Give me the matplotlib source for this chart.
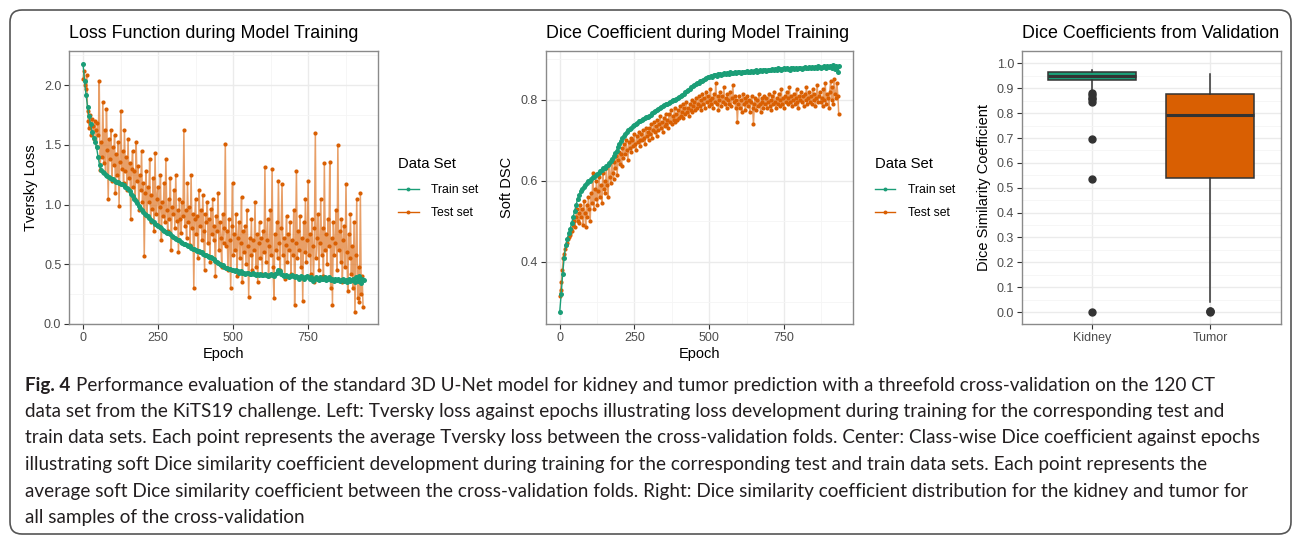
import matplotlib.pyplot as plt
from matplotlib.lines import Line2D
from matplotlib.patches import FancyBboxPatch
import numpy as np

plt.rcParams['font.family'] = 'Liberation Sans'

W, H = 1293, 536

GREEN = '#1B9E77'
ORANGE = '#D95F02'

# train curves read every 5th epoch, test curves every 3rd epoch
train_epochs = np.arange(0, 936, 5)
test_epochs = np.arange(0, 934, 3)

train_loss = [
    2.18, 2.03, 1.92, 1.82, 1.74, 1.67, 1.61, 1.56, 1.52, 1.48,
    1.40, 1.33, 1.29, 1.27, 1.26, 1.25, 1.24, 1.23, 1.22, 1.21,
    1.21, 1.20, 1.19, 1.19, 1.18, 1.17, 1.17, 1.16, 1.15, 1.14,
    1.13, 1.11, 1.09, 1.07, 1.05, 1.03, 1.01, 0.99, 0.97, 0.95,
    0.94, 0.92, 0.91, 0.90, 0.89, 0.87, 0.86, 0.85, 0.84, 0.83,
    0.82, 0.81, 0.80, 0.79, 0.78, 0.77, 0.76, 0.76, 0.75, 0.74,
    0.73, 0.72, 0.71, 0.70, 0.70, 0.69, 0.68, 0.67, 0.67, 0.66,
    0.65, 0.65, 0.64, 0.63, 0.63, 0.62, 0.61, 0.61, 0.60, 0.60,
    0.59, 0.58, 0.58, 0.57, 0.56, 0.56, 0.55, 0.54, 0.53, 0.52,
    0.51, 0.50, 0.49, 0.49, 0.48, 0.47, 0.47, 0.46, 0.46, 0.45,
    0.45, 0.44, 0.45, 0.44, 0.43, 0.44, 0.43, 0.43, 0.42, 0.43,
    0.43, 0.42, 0.42, 0.43, 0.42, 0.41, 0.42, 0.41, 0.42, 0.41,
    0.41, 0.42, 0.41, 0.40, 0.41, 0.42, 0.41, 0.40, 0.42, 0.43,
    0.45, 0.44, 0.42, 0.41, 0.40, 0.41, 0.40, 0.39, 0.40, 0.41,
    0.40, 0.39, 0.40, 0.39, 0.38, 0.40, 0.39, 0.38, 0.39, 0.40,
    0.39, 0.38, 0.39, 0.36, 0.38, 0.39, 0.38, 0.37, 0.39, 0.38,
    0.38, 0.39, 0.37, 0.38, 0.39, 0.37, 0.38, 0.36, 0.38, 0.37,
    0.38, 0.36, 0.37, 0.38, 0.36, 0.37, 0.35, 0.38, 0.36, 0.37,
    0.38, 0.35, 0.39, 0.36, 0.40, 0.34, 0.38, 0.37,
]

test_loss = [
    2.05, 2.12, 2.00, 1.97, 2.08, 1.78, 1.70, 1.64, 1.75, 1.58,
    1.72, 1.66, 1.55, 1.70, 1.62, 1.48, 1.68, 1.58, 2.03, 1.29,
    1.52, 1.40, 1.86, 1.35, 1.62, 1.25, 1.80, 1.46, 1.05, 1.55,
    1.38, 1.62, 1.20, 1.48, 1.33, 1.58, 1.10, 1.42, 1.25, 1.52,
    0.99, 1.36, 1.78, 1.30, 1.45, 1.18, 1.62, 1.28, 1.40, 1.12,
    1.55, 1.22, 1.35, 0.88, 1.30, 1.45, 1.15, 1.28, 1.05, 1.52,
    1.20, 1.32, 0.95, 1.25, 1.12, 1.45, 1.02, 1.18, 0.57, 1.10,
    1.28, 0.90, 1.15, 1.02, 1.38, 0.85, 1.08, 0.96, 1.22, 0.78,
    1.43, 0.92, 1.05, 1.15, 0.82, 0.98, 1.25, 0.70, 1.02, 0.90,
    1.18, 0.85, 1.38, 0.95, 0.78, 1.05, 0.88, 1.22, 0.62, 0.98,
    0.92, 1.12, 0.80, 1.25, 0.86, 0.95, 0.60, 1.05, 0.88, 0.76,
    1.02, 0.90, 1.62, 0.82, 0.95, 0.72, 1.18, 0.85, 0.98, 0.66,
    1.25, 0.80, 0.92, 0.30, 0.88, 1.05, 0.75, 0.90, 0.55, 1.12,
    0.82, 0.95, 0.70, 1.08, 0.78, 0.45, 0.92, 0.85, 1.02, 0.68,
    0.88, 0.52, 0.96, 0.75, 1.05, 0.70, 0.82, 0.40, 0.90, 0.78,
    1.10, 0.62, 0.85, 0.72, 0.48, 0.92, 0.68, 0.80, 1.51, 0.65,
    0.78, 0.45, 0.88, 0.70, 0.30, 0.82, 1.18, 0.58, 0.75, 0.62,
    0.92, 0.40, 0.72, 0.85, 0.55, 0.68, 1.06, 0.35, 0.78, 0.60,
    0.82, 0.50, 0.95, 0.65, 0.23, 0.72, 0.58, 0.88, 0.45, 0.70,
    0.62, 1.02, 0.48, 0.75, 0.35, 0.68, 0.85, 0.55, 0.72, 0.42,
    0.78, 0.60, 1.31, 0.52, 0.70, 0.88, 0.40, 0.65, 0.95, 0.58,
    1.30, 0.48, 0.22, 0.75, 0.62, 0.85, 0.55, 1.20, 0.68, 0.45,
    0.80, 1.17, 0.58, 0.72, 0.38, 0.66, 0.90, 0.52, 0.75, 0.62,
    0.85, 0.42, 0.70, 0.58, 0.95, 0.16, 0.68, 1.28, 0.55, 0.78,
    0.62, 0.90, 0.48, 0.72, 0.19, 0.85, 0.60, 1.05, 0.52, 0.70,
    1.20, 0.58, 0.75, 0.42, 0.88, 0.65, 0.35, 0.80, 1.60, 0.55,
    0.72, 0.92, 0.45, 0.68, 1.05, 0.58, 0.80, 0.40, 1.35, 0.62,
    0.75, 0.50, 0.88, 0.65, 1.36, 0.30, 0.72, 0.16, 0.85, 0.58,
    0.68, 0.95, 0.45, 1.50, 0.62, 0.78, 0.52, 0.88, 0.35, 0.70,
    0.82, 0.48, 1.17, 0.60, 0.28, 0.75, 0.55, 0.92, 0.42, 0.65,
    0.30, 0.85, 0.10, 0.58, 1.05, 0.22, 0.48, 0.18, 1.10, 0.25,
    0.40, 0.14,
]

train_dice = [
    0.275, 0.320, 0.370, 0.410, 0.440, 0.455, 0.470, 0.480, 0.495, 0.510,
    0.525, 0.540, 0.555, 0.565, 0.575, 0.580, 0.585, 0.590, 0.595, 0.598,
    0.600, 0.605, 0.608, 0.610, 0.613, 0.617, 0.620, 0.623, 0.627, 0.630,
    0.632, 0.635, 0.638, 0.643, 0.648, 0.654, 0.660, 0.667, 0.674, 0.682,
    0.690, 0.698, 0.705, 0.711, 0.716, 0.720, 0.724, 0.728, 0.731, 0.734,
    0.737, 0.740, 0.743, 0.746, 0.748, 0.750, 0.752, 0.754, 0.756, 0.758,
    0.760, 0.763, 0.766, 0.769, 0.772, 0.774, 0.777, 0.780, 0.782, 0.784,
    0.786, 0.788, 0.790, 0.792, 0.794, 0.796, 0.798, 0.800, 0.802, 0.804,
    0.806, 0.809, 0.812, 0.815, 0.818, 0.821, 0.824, 0.827, 0.830, 0.833,
    0.836, 0.838, 0.840, 0.842, 0.845, 0.847, 0.849, 0.851, 0.853, 0.855,
    0.856, 0.858, 0.857, 0.860, 0.861, 0.859, 0.862, 0.863, 0.861, 0.864,
    0.865, 0.863, 0.866, 0.864, 0.867, 0.865, 0.866, 0.868, 0.865, 0.867,
    0.868, 0.866, 0.869, 0.867, 0.868, 0.870, 0.867, 0.869, 0.871, 0.868,
    0.870, 0.872, 0.869, 0.871, 0.873, 0.870, 0.872, 0.874, 0.871, 0.873,
    0.874, 0.872, 0.875, 0.873, 0.876, 0.874, 0.877, 0.875, 0.873, 0.876,
    0.877, 0.875, 0.878, 0.876, 0.874, 0.877, 0.879, 0.876, 0.878, 0.875,
    0.877, 0.879, 0.876, 0.878, 0.880, 0.877, 0.879, 0.881, 0.878, 0.880,
    0.879, 0.881, 0.878, 0.882, 0.880, 0.877, 0.881, 0.883, 0.879, 0.882,
    0.880, 0.884, 0.878, 0.886, 0.875, 0.884, 0.868, 0.882,
]

test_dice = [
    0.315, 0.330, 0.350, 0.380, 0.410, 0.420, 0.430, 0.440, 0.445, 0.455,
    0.460, 0.470, 0.465, 0.480, 0.475, 0.490, 0.500, 0.485, 0.510, 0.530,
    0.500, 0.520, 0.495, 0.540, 0.510, 0.530, 0.490, 0.550, 0.520, 0.485,
    0.540, 0.510, 0.560, 0.530, 0.500, 0.570, 0.545, 0.620, 0.530, 0.580,
    0.555, 0.600, 0.540, 0.575, 0.610, 0.560, 0.590, 0.545, 0.620, 0.580,
    0.600, 0.570, 0.630, 0.590, 0.560, 0.640, 0.610, 0.595, 0.650, 0.620,
    0.605, 0.645, 0.630, 0.660, 0.615, 0.650, 0.670, 0.640, 0.665, 0.635,
    0.680, 0.655, 0.690, 0.665, 0.700, 0.675, 0.650, 0.695, 0.680, 0.705,
    0.670, 0.700, 0.685, 0.715, 0.690, 0.675, 0.710, 0.695, 0.720, 0.700,
    0.685, 0.715, 0.700, 0.725, 0.705, 0.690, 0.730, 0.710, 0.720, 0.700,
    0.730, 0.715, 0.740, 0.705, 0.725, 0.745, 0.720, 0.735, 0.710, 0.750,
    0.725, 0.740, 0.760, 0.730, 0.745, 0.720, 0.755, 0.735, 0.765, 0.740,
    0.750, 0.730, 0.765, 0.745, 0.775, 0.740, 0.760, 0.750, 0.780, 0.745,
    0.765, 0.750, 0.775, 0.755, 0.785, 0.760, 0.770, 0.790, 0.755, 0.780,
    0.765, 0.795, 0.770, 0.780, 0.760, 0.790, 0.775, 0.800, 0.770, 0.785,
    0.795, 0.775, 0.805, 0.780, 0.790, 0.810, 0.785, 0.800, 0.775, 0.815,
    0.790, 0.805, 0.780, 0.820, 0.795, 0.810, 0.785, 0.800, 0.825, 0.790,
    0.805, 0.780, 0.815, 0.795, 0.840, 0.790, 0.810, 0.775, 0.800, 0.820,
    0.785, 0.810, 0.795, 0.830, 0.790, 0.805, 0.780, 0.815, 0.800, 0.790,
    0.820, 0.785, 0.805, 0.835, 0.795, 0.810, 0.780, 0.800, 0.745, 0.790,
    0.810, 0.780, 0.800, 0.770, 0.815, 0.790, 0.805, 0.775, 0.795, 0.810,
    0.785, 0.800, 0.770, 0.795, 0.810, 0.780, 0.740, 0.790, 0.805, 0.775,
    0.800, 0.785, 0.815, 0.790, 0.770, 0.805, 0.795, 0.780, 0.810, 0.790,
    0.805, 0.780, 0.795, 0.815, 0.785, 0.800, 0.775, 0.810, 0.790, 0.820,
    0.795, 0.780, 0.805, 0.790, 0.815, 0.785, 0.800, 0.825, 0.790, 0.805,
    0.780, 0.810, 0.795, 0.820, 0.790, 0.805, 0.830, 0.795, 0.810, 0.785,
    0.800, 0.815, 0.790, 0.805, 0.825, 0.795, 0.780, 0.810, 0.800, 0.820,
    0.795, 0.810, 0.785, 0.815, 0.800, 0.830, 0.790, 0.805, 0.820, 0.795,
    0.810, 0.790, 0.825, 0.800, 0.815, 0.785, 0.805, 0.835, 0.795, 0.810,
    0.820, 0.795, 0.805, 0.785, 0.825, 0.800, 0.840, 0.790, 0.815, 0.805,
    0.780, 0.820, 0.845, 0.800, 0.830, 0.790, 0.850, 0.815, 0.805, 0.840,
    0.810, 0.765,
]

# validation box plot summaries
categories = ['Kidney', 'Tumor']
box_q1 = [0.933, 0.538]
box_median = [0.949, 0.791]
box_q3 = [0.966, 0.879]
whisker_low = [0.885, 0.040]
whisker_high = [0.975, 0.957]
outliers = [
    [0.880, 0.872, 0.862, 0.855, 0.846, 0.698, 0.536, 0.0],
    [0.006, 0.003, 0.0],
]

caption_lines = [
    'Performance evaluation of the standard 3D U-Net model for kidney and tumor prediction with a threefold cross-validation on the 120 CT',
    'data set from the KiTS19 challenge. Left: Tversky loss against epochs illustrating loss development during training for the corresponding test and',
    'train data sets. Each point represents the average Tversky loss between the cross-validation folds. Center: Class-wise Dice coefficient against epochs',
    'illustrating soft Dice similarity coefficient development during training for the corresponding test and train data sets. Each point represents the',
    'average soft Dice similarity coefficient between the cross-validation folds. Right: Dice similarity coefficient distribution for the kidney and tumor for',
    'all samples of the cross-validation',
]


def fx(x):
    return x / W


def fy(y):
    return 1 - y / H


def add_panel(left, top, right, bottom):
    return fig.add_axes([fx(left), fy(bottom), (right - left) / W, (bottom - top) / H])


def style_axes(ax):
    for s in ax.spines.values():
        s.set_color('#8a8a8a')
        s.set_linewidth(1.0)
    ax.grid(which='major', color='#EBEBEB', lw=1.0)
    ax.grid(which='minor', color='#F5F5F5', lw=0.6)
    ax.set_axisbelow(True)
    ax.tick_params(which='major', length=3.5, width=0.8, color='#333333',
                   labelcolor='#4D4D4D', labelsize=9, pad=2)
    ax.tick_params(which='minor', length=0)


def draw_training(ax, train, test):
    ax.plot(test_epochs, test, color=ORANGE, lw=1.1, alpha=0.6, zorder=2)
    ax.plot(test_epochs, test, ls='none', marker='o', ms=3.0, mfc=ORANGE, mec='none', zorder=3)
    ax.plot(train_epochs, train, color=GREEN, lw=1.0, zorder=4,
            marker='o', ms=3.6, mfc=GREEN, mec='none')
    ax.set_xlim(-46.75, 981.75)
    ax.set_xticks([0, 250, 500, 750])
    ax.set_xticks([125, 375, 625, 875], minor=True)
    style_axes(ax)


def add_legend(x, y):
    handles = [Line2D([], [], color=GREEN, lw=1.0, marker='o', ms=2.8, mec='none'),
               Line2D([], [], color=ORANGE, lw=1.0, marker='o', ms=2.8, mec='none')]
    leg = fig.legend(handles, ['Train set', 'Test set'], title='Data Set',
                     loc='upper left', bbox_to_anchor=(fx(x), fy(y)),
                     frameon=False, alignment='left', fontsize=8.8,
                     title_fontsize=10.7, handlelength=1.7, handletextpad=1.0,
                     labelspacing=0.85, borderpad=0, borderaxespad=0)
    leg._legend_box.sep = 10


fig = plt.figure(figsize=(W / 100, H / 100), dpi=100)

# left: loss
ax1 = add_panel(69, 51, 377.7, 324)
draw_training(ax1, train_loss, test_loss)
ax1.set_ylim(0, 2.285)
ax1.set_yticks([0.0, 0.5, 1.0, 1.5, 2.0])
ax1.set_yticks([0.25, 0.75, 1.25, 1.75, 2.25], minor=True)
ax1.set_yticklabels(['0.0', '0.5', '1.0', '1.5', '2.0'])
fig.text(fx(69), fy(34), 'Loss Function during Model Training', fontsize=12.9, va='center')
fig.text(fx(31.5), fy(187.5), 'Tversky Loss', fontsize=10.5, rotation=90, ha='center', va='center')
fig.text(fx(223), fy(354), 'Epoch', fontsize=10.5, ha='center', va='center')
add_legend(398, 156.5)

# center: dice
ax2 = add_panel(545.7, 51, 853.3, 324)
draw_training(ax2, train_dice, test_dice)
ax2.set_ylim(0.246, 0.92)
ax2.set_yticks([0.4, 0.6, 0.8])
ax2.set_yticks([0.3, 0.5, 0.7, 0.9], minor=True)
fig.text(fx(545.7), fy(34), 'Dice Coefficient during Model Training', fontsize=12.9, va='center')
fig.text(fx(507), fy(187.5), 'Soft DSC', fontsize=10.5, rotation=90, ha='center', va='center')
fig.text(fx(699.5), fy(354), 'Epoch', fontsize=10.5, ha='center', va='center')
add_legend(874.5, 156.5)

# right: validation boxes
ax3 = add_panel(1021.7, 51, 1280.7, 324)
stats = []
for i, name in enumerate(categories):
    stats.append(dict(label=name, q1=box_q1[i], med=box_median[i], q3=box_q3[i],
                      whislo=whisker_low[i], whishi=whisker_high[i], fliers=outliers[i]))
bp = ax3.bxp(stats, positions=[1, 2], widths=0.75, patch_artist=True, showcaps=False,
             boxprops=dict(edgecolor='#333333', lw=1.1),
             medianprops=dict(color='#333333', lw=2.2),
             whiskerprops=dict(color='#333333', lw=1.1),
             flierprops=dict(marker='o', mfc='#333333', mec='#333333', ms=5))
for patch, c in zip(bp['boxes'], [GREEN, ORANGE]):
    patch.set_facecolor(c)
ax3.set_xlim(0.4, 2.6)
ax3.set_ylim(-0.048, 1.05)
ax3.set_yticks(np.arange(0, 1.01, 0.1))
ax3.set_yticks(np.arange(0.05, 1.0, 0.1), minor=True)
ax3.set_yticklabels(['%.1f' % v for v in np.arange(0, 1.01, 0.1)])
style_axes(ax3)
ax3.xaxis.grid(True, which='major')
fig.text(fx(1022), fy(34), 'Dice Coefficients from Validation', fontsize=12.9, va='center')
fig.text(fx(984), fy(187.5), 'Dice Similarity Coefficient', fontsize=10.5, rotation=90, ha='center', va='center')

# caption
cap_size = 13.6
cap_y = [385, 411.5, 438, 464.5, 491, 517.5]
fig.text(fx(25), fy(cap_y[0]), 'Fig. 4', fontsize=cap_size, family='Lato', weight='bold', va='center', color='#231F20')
fig.text(fx(76), fy(cap_y[0]), caption_lines[0], fontsize=cap_size, family='Lato', va='center', color='#231F20')
for yy, line in zip(cap_y[1:], caption_lines[1:]):
    fig.text(fx(25), fy(yy), line, fontsize=cap_size, family='Lato', va='center', color='#231F20')

# frame around the whole figure
frame = FancyBboxPatch((0.10, 0.02), 12.81, 5.24, boxstyle='round,pad=0,rounding_size=0.12',
                       transform=fig.dpi_scale_trans, fc='none', ec='#555555', lw=1.2)
fig.add_artist(frame)

fig.savefig('out.png', dpi=100)
